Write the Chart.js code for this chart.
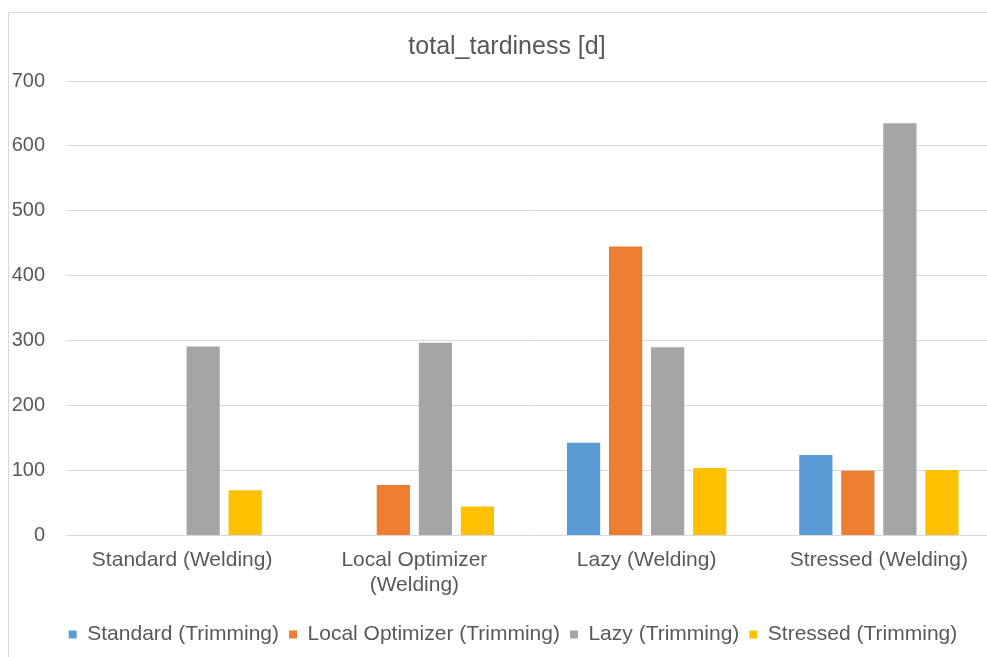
<!DOCTYPE html>
<html>
<head>
<meta charset="utf-8">
<script src="https://cdn.jsdelivr.net/npm/chart.js@4/dist/chart.umd.min.js"></script>
<style>
  html, body { margin: 0; padding: 0; background: #fff; overflow: hidden; width: 987px; height: 657px; }
  #frame { position: absolute; left: 8px; top: 12px; width: 1004px; height: 660px;
           border: 1px solid #d9d9d9; box-sizing: border-box; }
  #wrap { position: absolute; left: 0; top: 0; width: 1002px; height: 642px; }
</style>
</head>
<body>
<div id="frame"><div id="wrap"><canvas id="c"></canvas></div></div>
<script>
// Welding strategy groups on the x axis
const categories = ['Standard (Welding)', ['Local Optimizer', '(Welding)'], 'Lazy (Welding)', 'Stressed (Welding)'];

// Total tardiness in days for each trimming strategy
const standardTrimming = [0, 0, 143, 124];
const localOptimizerTrimming = [0, 78, 445, 100];
const lazyTrimming = [291, 297, 290, 635];
const stressedTrimming = [70, 45, 104, 101];

const yTicks = [0, 100, 200, 300, 400, 500, 600, 700];

const textColor = '#595959';
const font = 'Liberation Sans, Arial, sans-serif';

function series(label, data, color) {
  return { label, data, backgroundColor: color, borderWidth: 0,
           categoryPercentage: 0.724, barPercentage: 0.79 };
}

// Nudge the title and legend so they are centred on the full frame width
const centreBlocks = {
  id: 'centreBlocks',
  afterLayout(chart) {
    const shift = (box, dx) => { if (box) { box.left += dx; box.right += dx; } };
    shift(chart.titleBlock, 5);
    shift(chart.legend, 11);
  }
};

new Chart(document.getElementById('c'), {
  type: 'bar',
  data: {
    labels: categories,
    datasets: [
      series('Standard (Trimming)', standardTrimming, '#5B9BD5'),
      series('Local Optimizer (Trimming)', localOptimizerTrimming, '#ED7D31'),
      series('Lazy (Trimming)', lazyTrimming, '#A5A5A5'),
      series('Stressed (Trimming)', stressedTrimming, '#FFC000')
    ]
  },
  plugins: [centreBlocks],
  options: {
    responsive: true,
    maintainAspectRatio: false,
    animation: false,
    layout: { padding: { left: 0, right: 16, top: 0, bottom: 0 } },
    plugins: {
      title: {
        display: true,
        text: 'total_tardiness [d]',
        color: textColor,
        font: { family: font, size: 25, weight: 'normal' },
        padding: { top: 19, bottom: 19 }
      },
      legend: {
        position: 'bottom',
        labels: {
          color: textColor,
          font: { family: font, size: 21 },
          boxWidth: 8, boxHeight: 8, padding: 10
        }
      },
      tooltip: { enabled: false }
    },
    scales: {
      x: {
        grid: { display: false, drawTicks: false },
        border: { display: false },
        ticks: { color: textColor, font: { family: font, size: 21 }, padding: 12, maxRotation: 0, autoSkip: false },
        afterFit: (axis) => { axis.height += 4; }
      },
      y: {
        min: 0, max: 700,
        afterBuildTicks: (axis) => { axis.ticks = yTicks.map(v => ({ value: v })); },
        grid: { color: '#d9d9d9', lineWidth: 1, drawTicks: false },
        border: { display: false },
        ticks: { color: textColor, font: { family: font, size: 20 }, padding: 21 },
        afterFit: (axis) => { axis.width = 57; }
      }
    }
  }
});
</script>
</body>
</html>
